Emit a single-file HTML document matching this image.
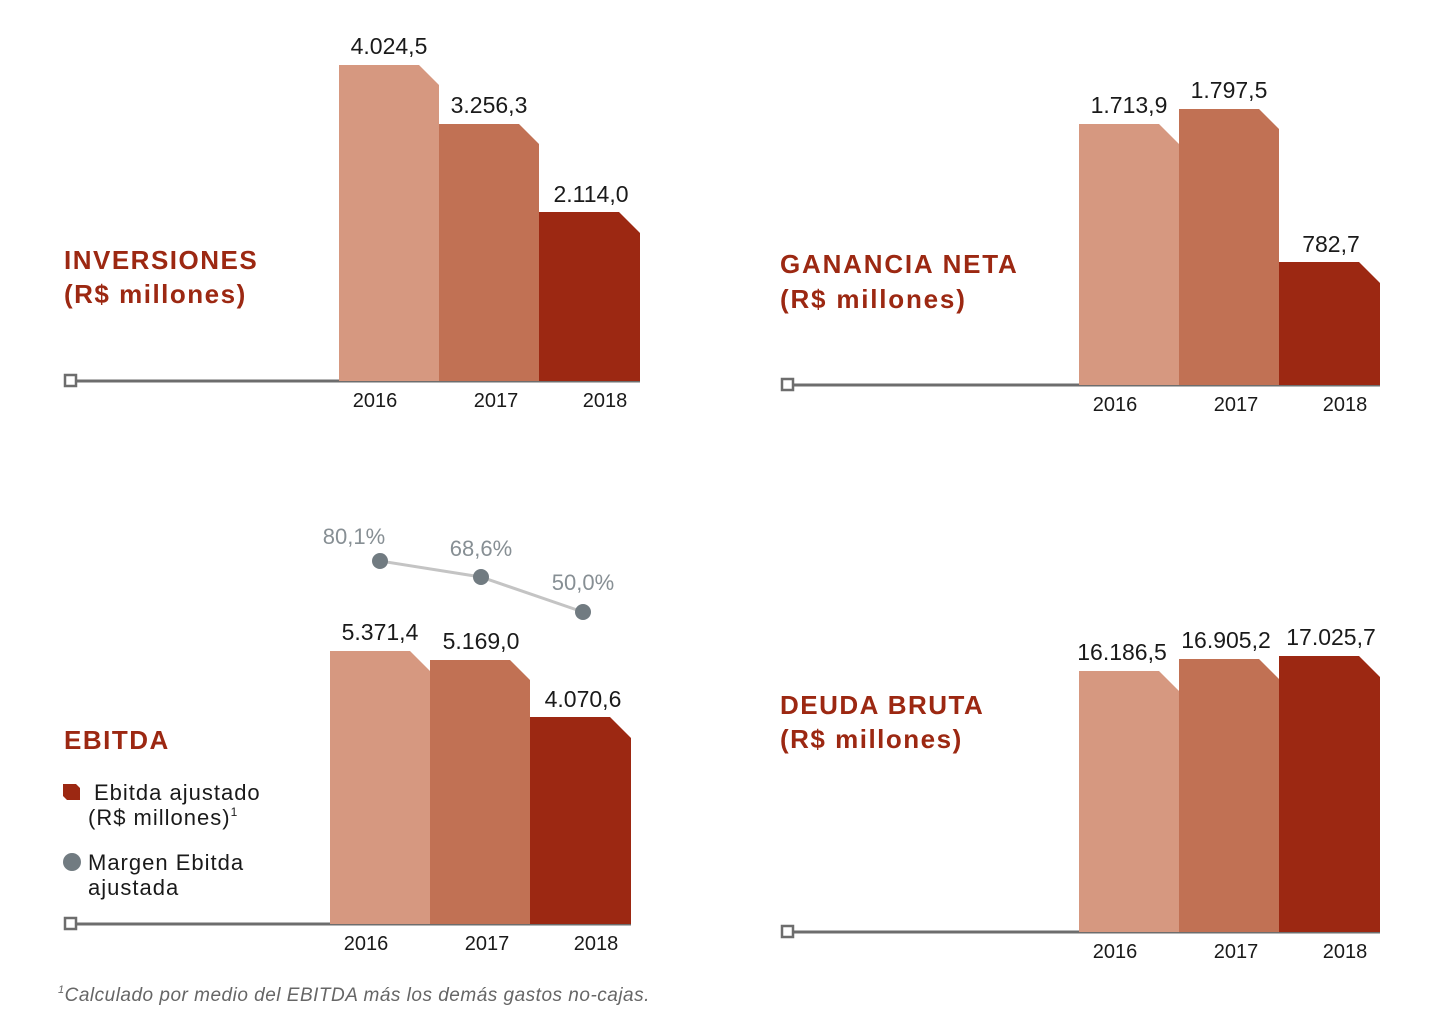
<!DOCTYPE html>
<html><head><meta charset="utf-8"><style>
body{margin:0;background:#fff;}
svg text{font-family:"Liberation Sans",sans-serif;}
</style></head><body>
<svg width="1444" height="1024" viewBox="0 0 1444 1024" xmlns="http://www.w3.org/2000/svg">
<!-- Chart 1 -->
<g>
<line x1="72" y1="381" x2="640" y2="381" stroke="#6d6d6d" stroke-width="3"/>
<rect x="65" y="375" width="11" height="11" fill="#fff" stroke="#6d6d6d" stroke-width="2.5"/>
<path d="M339,381V65H419L439,85V381Z" fill="#d69880"/>
<path d="M439,381V124H519L539,144V381Z" fill="#c17154"/>
<path d="M539,381V212H619L640,233V381Z" fill="#9c2812"/>
<g font-size="23" fill="#1a1a1a" text-anchor="middle">
<text x="389" y="54">4.024,5</text><text x="489" y="113">3.256,3</text><text x="591" y="202">2.114,0</text></g>
<g font-size="20" fill="#1a1a1a" text-anchor="middle">
<text x="375" y="407">2016</text><text x="496" y="407">2017</text><text x="605" y="407">2018</text></g>
<g font-size="26" font-weight="bold" fill="#9c2812" letter-spacing="1.5"><text x="64" y="269">INVERSIONES</text><text x="64" y="303">(R$ millones)</text></g>
</g>
<!-- Chart 2 -->
<g>
<line x1="790" y1="385" x2="1380" y2="385" stroke="#6d6d6d" stroke-width="3"/>
<rect x="782" y="379" width="11" height="11" fill="#fff" stroke="#6d6d6d" stroke-width="2.5"/>
<path d="M1079,385V124H1159L1179,144V385Z" fill="#d69880"/>
<path d="M1179,385V109H1259L1279,129V385Z" fill="#c17154"/>
<path d="M1279,385V262H1359L1380,283V385Z" fill="#9c2812"/>
<g font-size="23" fill="#1a1a1a" text-anchor="middle">
<text x="1129" y="113">1.713,9</text><text x="1229" y="98">1.797,5</text><text x="1331" y="252">782,7</text></g>
<g font-size="20" fill="#1a1a1a" text-anchor="middle">
<text x="1115" y="411">2016</text><text x="1236" y="411">2017</text><text x="1345" y="411">2018</text></g>
<g font-size="26" font-weight="bold" fill="#9c2812" letter-spacing="1.8"><text x="780" y="273">GANANCIA NETA</text><text x="780" y="308">(R$ millones)</text></g>
</g>
<!-- Chart 3 -->
<g>
<line x1="72" y1="924" x2="631" y2="924" stroke="#6d6d6d" stroke-width="3"/>
<rect x="65" y="918" width="11" height="11" fill="#fff" stroke="#6d6d6d" stroke-width="2.5"/>
<path d="M330,924V651H410L430,671V924Z" fill="#d69880"/>
<path d="M430,924V660H510L530,680V924Z" fill="#c17154"/>
<path d="M530,924V717H610L631,738V924Z" fill="#9c2812"/>
<g font-size="23" fill="#1a1a1a" text-anchor="middle">
<text x="380" y="640">5.371,4</text><text x="481" y="649">5.169,0</text><text x="583" y="707">4.070,6</text></g>
<g font-size="20" fill="#1a1a1a" text-anchor="middle">
<text x="366" y="950">2016</text><text x="487" y="950">2017</text><text x="596" y="950">2018</text></g>
<polyline points="380,561 481,577 583,612" fill="none" stroke="#c4c4c4" stroke-width="3"/>
<circle cx="380" cy="561" r="8" fill="#717b81"/><circle cx="481" cy="577" r="8" fill="#717b81"/><circle cx="583" cy="612" r="8" fill="#717b81"/>
<g font-size="22" fill="#878f94" text-anchor="middle">
<text x="354" y="544">80,1%</text><text x="481" y="556">68,6%</text><text x="583" y="590">50,0%</text></g>
<text x="64" y="749" font-size="26" font-weight="bold" fill="#9c2812" letter-spacing="1.5">EBITDA</text>
<path d="M63,784H76L80,788V800H67L63,796Z" fill="#9c2812"/>
<g font-size="22" fill="#1a1a1a" letter-spacing="1">
<text x="94" y="800">Ebitda ajustado</text><text x="88" y="825">(R$ millones)<tspan font-size="12" dy="-9">1</tspan></text>
<text x="88" y="870">Margen Ebitda</text><text x="88" y="895">ajustada</text></g>
<circle cx="72" cy="862" r="9" fill="#717b81"/>
<text x="58" y="1001" font-size="19" font-style="italic" fill="#666" letter-spacing="0.5"><tspan font-size="11" dy="-8">1</tspan><tspan dy="8">Calculado por medio del EBITDA más los demás gastos no-cajas.</tspan></text>
</g>
<!-- Chart 4 -->
<g>
<line x1="790" y1="932" x2="1380" y2="932" stroke="#6d6d6d" stroke-width="3"/>
<rect x="782" y="926" width="11" height="11" fill="#fff" stroke="#6d6d6d" stroke-width="2.5"/>
<path d="M1079,932V671H1159L1179,691V932Z" fill="#d69880"/>
<path d="M1179,932V659H1259L1279,679V932Z" fill="#c17154"/>
<path d="M1279,932V656H1359L1380,677V932Z" fill="#9c2812"/>
<g font-size="23" fill="#1a1a1a" text-anchor="middle">
<text x="1122" y="660">16.186,5</text><text x="1226" y="648">16.905,2</text><text x="1331" y="645">17.025,7</text></g>
<g font-size="20" fill="#1a1a1a" text-anchor="middle">
<text x="1115" y="958">2016</text><text x="1236" y="958">2017</text><text x="1345" y="958">2018</text></g>
<g font-size="26" font-weight="bold" fill="#9c2812" letter-spacing="1.5"><text x="780" y="714">DEUDA BRUTA</text><text x="780" y="748">(R$ millones)</text></g>
</g>
</svg>
</body></html>
